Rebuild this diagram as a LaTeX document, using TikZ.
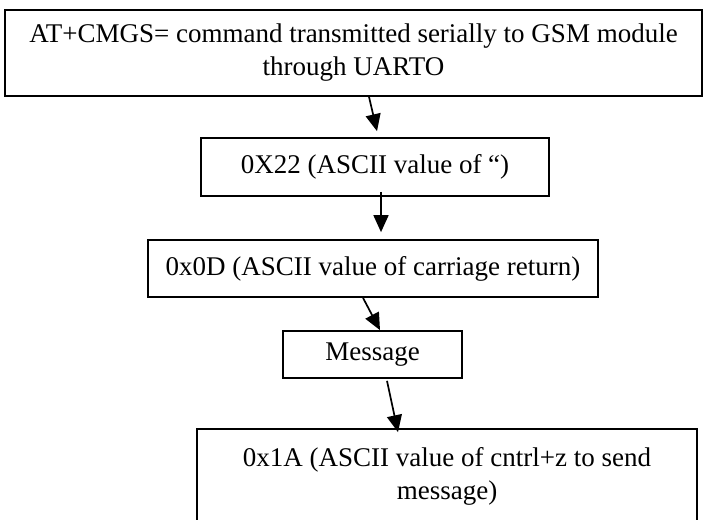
\documentclass[tikz,border=0pt]{standalone}
\usepackage{fontspec}
\setmainfont{Liberation Serif}
\usetikzlibrary{arrows.meta}
\begin{document}
\begin{tikzpicture}[x=1pt, y=-1pt, line width=1.7pt, font=\fontsize{27}{33}\selectfont,
  stepbox/.style={draw, inner sep=0pt, align=center},
  flow/.style={-{Triangle[length=17pt,width=15pt]}}]
\path[use as bounding box, clip] (0,0) rectangle (703,519);
\node[stepbox, minimum width=697pt, minimum height=86pt] (cmd) at (353.5,53) {AT+CMGS= command transmitted serially to GSM module\\through UARTO};
\node[stepbox, minimum width=348pt, minimum height=58pt] (quote) at (375,167) {0X22 (ASCII value of “)};
\node[stepbox, minimum width=450pt, minimum height=57pt] (cr) at (373,268.5) {0x0D (ASCII value of carriage return)};
\node[stepbox, minimum width=179pt, minimum height=47pt] (msg) at (372.5,354.5) {Message};
\node[stepbox, minimum width=500pt, minimum height=95pt] (ctrlz) at (447,476.5) {0x1A (ASCII value of cntrl+z to send\\message)};
%%%%%%%%%%%%%
\draw[flow] ([xshift=15.5pt]cmd.south) -- ([xshift=2pt,yshift=6pt]quote.north);
\draw[flow] ([xshift=6pt,yshift=5pt]quote.south) -- ([xshift=8pt,yshift=7pt]cr.north);
\draw[flow] ([xshift=-10pt]cr.south) -- ([xshift=7.5pt]msg.north);
\draw[flow] ([xshift=14.5pt,yshift=-2pt]msg.south) -- ([xshift=-49pt,yshift=-4pt]ctrlz.north);
\end{tikzpicture}
\end{document}
